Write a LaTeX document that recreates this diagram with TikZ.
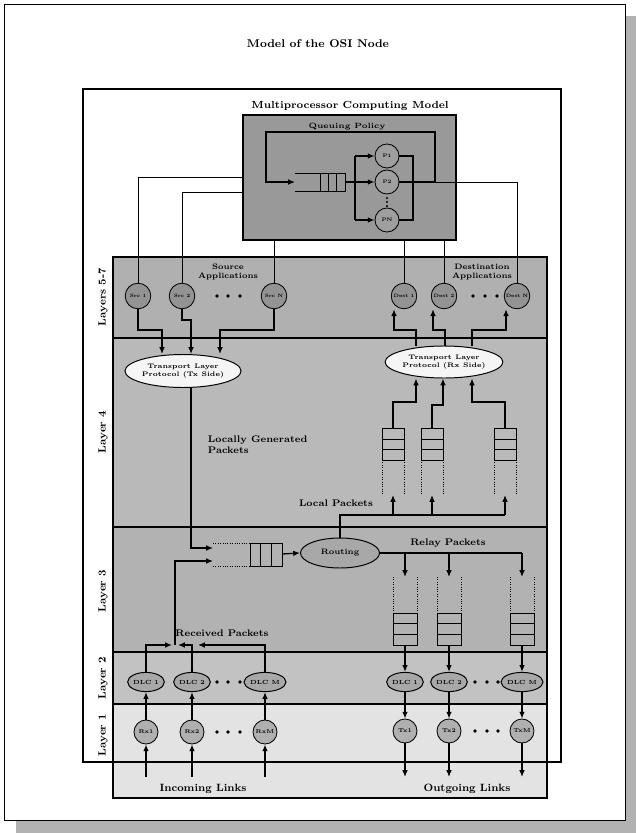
\documentclass[tikz,border=0pt]{standalone}
\usepackage{tikz}
\usetikzlibrary{arrows.meta,shapes.geometric}
\tikzset{every node/.append style={font=\bfseries}}
\tikzset{
  link/.style={line width=0.9pt},
  wire/.style={line width=0.6pt},
  arr/.style={line width=0.9pt, -{Latex[length=1.7mm,width=1.4mm]}},
  app/.style={draw, shape=circle, fill=gray!85, line width=0.6pt, minimum size=6.4mm, inner sep=0pt, font=\bfseries\fontsize{3.4}{4}\selectfont},
  srv/.style={draw, shape=circle, fill=gray!75, line width=0.6pt, minimum size=6mm, inner sep=0pt, font=\bfseries\fontsize{3.6}{4}\selectfont},
  proto/.style={draw, shape=ellipse, fill=gray!8, line width=0.7pt, inner sep=0pt, align=center, font=\bfseries\fontsize{4.7}{5.4}\selectfont},
  dlc/.style={draw, shape=ellipse, fill=gray!68, line width=0.7pt, minimum width=8.5mm, minimum height=4.8mm, inner sep=0pt, font=\bfseries\fontsize{4.2}{5}\selectfont},
  phy/.style={draw, shape=circle, fill=gray!62, line width=0.6pt, minimum size=6mm, inner sep=0pt, font=\bfseries\fontsize{4}{5}\selectfont},
  layername/.style={rotate=90, font=\bfseries\fontsize{7.5}{9}\selectfont},
  caption/.style={font=\bfseries\fontsize{6.8}{7.6}\selectfont, align=left},
  smallcap/.style={font=\bfseries\fontsize{5.6}{6.4}\selectfont, align=center},
  qsolid/.style={line width=0.7pt},
  qopen/.style={line width=0.7pt, densely dotted},
}

\begin{document}
\begin{tikzpicture}[x=0.25mm, y=-0.25mm]
  \useasboundingbox (0,0) rectangle (636,833);

  % page and shadow
  \fill[gray!60] (16,16) rectangle (636,833);
  \draw[fill=white, line width=0.6pt] (4,4) rectangle (625,820);
  \node[font=\bfseries\fontsize{8}{10}\selectfont] (title) at (318,44) {Model of the OSI Node};

  % layer bands
  \fill[gray!62] (113,257) rectangle (547,338);
  \fill[gray!55] (113,338) rectangle (547,527);
  \fill[gray!60] (113,527) rectangle (547,652);
  \fill[gray!48] (113,652) rectangle (547,704);
  \fill[gray!22] (113,704) rectangle (547,798);
  \draw[line width=1pt] (113,257) rectangle (547,798);
  \foreach \y in {338,527,652,704}
    \draw[line width=1pt] (113,\y) -- (547,\y);
  \draw[line width=1.2pt] (83,89) rectangle (561,762);

  \node[layername] (l57) at (103,297) {Layers 5-7};
  \node[layername] (l4) at (103,432) {Layer 4};
  \node[layername] (l3) at (103,591) {Layer 3};
  \node[layername] (l2) at (103,678) {Layer 2};
  \node[layername] (l1) at (103,735) {Layer 1};

  % multiprocessor computing model
  \node[font=\bfseries\fontsize{7.3}{9}\selectfont] (mpctitle) at (350,106) {Multiprocessor Computing Model};
  \node[draw, fill=gray!80, line width=1pt, minimum width=53.25mm, minimum height=31.25mm] (mpc) at (349.5,177.5) {};
  \node[font=\bfseries\fontsize{5.4}{6}\selectfont] (policy) at (347,126.5) {Queuing Policy};

  \draw[qsolid] (295,173) -- (345,173) -- (345,191) -- (295,191);
  \foreach \x in {320,328,336}
    \draw[qsolid] (\x,173) -- (\x,191);
  \coordinate (pin) at (295,182);
  \coordinate (pout) at (345,182);

  \node[srv] (p1) at (387,156) {P1};
  \node[srv] (p2) at (387,182) {P2};
  \node[srv] (pn) at (387,220) {PN};
  \foreach \y in {198,202,206}
    \fill (387,\y) circle (0.3mm);

  \draw[arr] (pout) -- (p2.west);
  \draw[link] (355,156) -- (355,220);
  \draw[arr] (355,156) -- (p1.west);
  \draw[arr] (355,220) -- (pn.west);
  \draw[link] (p1.east) -| (413,220) -- (pn.east);
  \draw[arr] (p2.east) -- (435,182) |- (266,132) |- (pin);

  % layers 5-7
  \node[smallcap] (srclbl) at (228,272) {Source\\Applications};
  \node[smallcap] (dstlbl) at (482,272) {Destination\\Applications};
  \node[app] (src1) at (138,296) {Src 1};
  \node[app] (src2) at (182,296) {Src 2};
  \node[app] (srcn) at (274,296) {Src N};
  \node[app] (dst1) at (404,296) {Dest 1};
  \node[app] (dst2) at (444,296) {Dest 2};
  \node[app] (dstn) at (517,296) {Dest N};
  \foreach \x in {217,228,240}
    \fill (\x,296) circle (0.45mm);
  \foreach \x in {473,485,497}
    \fill (\x,296) circle (0.45mm);

  \draw[wire] (src1.north) |- (mpc.west |- 0,177);
  \draw[wire] (src2.north) |- (mpc.west |- 0,192);
  \draw[wire] (srcn.north) -- (srcn.north |- mpc.south);
  \draw[wire] (dst1.north) -- (dst1.north |- mpc.south);
  \draw[wire] (dst2.north) -- (dst2.north |- mpc.south);
  \draw[wire] (dstn.north) |- (435,182);

  % layer 4
  \node[proto, minimum width=23.5mm, minimum height=8.25mm] (txp) at (183,371) {Transport Layer\\Protocol (Tx Side)};
  \node[proto, minimum width=28mm, minimum height=8mm] (rxp) at (444,362) {Transport Layer\\Protocol (Rx Side)};

  \draw[arr] (src1.south) |- (162,330) -- (162,0 |- txp.north);
  \draw[arr] (src2.south) |- (191,320) -- (191,0 |- txp.north);
  \draw[arr] (srcn.south) |- (220,330) -- (220,0 |- txp.north);
  \draw[arr] (416,0 |- rxp.north) |- (394,330) -- (394,0 |- dst1.south);
  \draw[arr] (445,0 |- rxp.north) |- (433,330) -- (433,0 |- dst2.south);
  \draw[arr] (472,0 |- rxp.north) |- (506,330) -- (506,0 |- dstn.south);

  \node[caption, anchor=north west] (locgen) at (203,431) {Locally Generated\\Packets};
  \node[caption] (locpk) at (336,503) {Local Packets};

  \foreach \x/\n in {393/1,432/2,505/3} {
    \draw[qsolid] (\x-11,460) |- (\x+11,428) -- (\x+11,460);
    \draw[qopen] (\x-11,460) -- (\x-11,495) (\x+11,460) -- (\x+11,495);
    \foreach \y in {439,449,460}
      \draw[qsolid] (\x-11,\y) -- (\x+11,\y);
    \coordinate (uqt\n) at (\x,428);
    \coordinate (uqb\n) at (\x,495);
  }
  \draw[arr] (uqt1) |- (416,402) -- (416,0 |- rxp.south);
  \draw[arr] (uqt2) |- (443,405) -- (443,0 |- rxp.south);
  \draw[arr] (uqt3) |- (472,402) -- (472,0 |- rxp.south);

  % layer 3
  \node[draw, shape=ellipse, fill=gray!68, line width=0.7pt, minimum width=19.75mm, minimum height=7.5mm, inner sep=0pt, font=\bfseries\fontsize{5.6}{6}\selectfont] (rt) at (340,553) {Routing};

  \draw[qopen] (213,543) -- (250,543) (213,566) -- (250,566);
  \draw[qsolid] (250,543) -- (282,543) -- (282,566) -- (250,566);
  \foreach \x in {250,260,271}
    \draw[qsolid] (\x,543) -- (\x,566);
  \coordinate (lqin1) at (213,548);
  \coordinate (lqin2) at (213,561);
  \coordinate (lqout) at (282,554);

  \draw[arr] (191,0 |- txp.south) |- (lqin1);
  \draw[arr] (lqout) -- (rt.west);
  \draw[link] (rt.north) |- (uqb3 |- 0,515);
  \foreach \n in {1,2,3}
    \draw[arr] (uqb\n |- 0,515) -- (uqb\n);

  \node[caption] (relay) at (448,543) {Relay Packets};
  \foreach \x/\n in {405/1,449/2,522/3} {
    \draw[qopen] (\x-12,577) -- (\x-12,613) (\x+12,577) -- (\x+12,613);
    \draw[qsolid] (\x-12,613) |- (\x+12,645) -- (\x+12,613);
    \foreach \y in {613,623,634}
      \draw[qsolid] (\x-12,\y) -- (\x+12,\y);
    \coordinate (dqt\n) at (\x,577);
    \coordinate (dqb\n) at (\x,645);
  }
  \draw[link] (rt.east) -- (dqt3 |- rt.east);
  \foreach \n in {1,2,3}
    \draw[arr] (dqt\n |- rt.east) -- (dqt\n);

  % layers 2 and 1
  \node[dlc] (dl1) at (146,682) {DLC 1};
  \node[dlc] (dl2) at (192,682) {DLC 2};
  \node[dlc] (dl3) at (265,682) {DLC M};
  \node[dlc] (dr1) at (405,682) {DLC 1};
  \node[dlc] (dr2) at (449,682) {DLC 2};
  \node[dlc] (dr3) at (522,682) {DLC M};

  \node[phy] (rx1) at (146,732) {Rx1};
  \node[phy] (rx2) at (192,732) {Rx2};
  \node[phy] (rx3) at (265,732) {RxM};
  \node[phy] (tx1) at (405,731) {Tx1};
  \node[phy] (tx2) at (449,731) {Tx2};
  \node[phy] (tx3) at (522,731) {TxM};

  \foreach \x in {217,228,240} {
    \fill (\x,682) circle (0.45mm);
    \fill (\x,732) circle (0.45mm);
  }
  \foreach \x in {475,487,498} {
    \fill (\x,682) circle (0.45mm);
    \fill (\x,731) circle (0.45mm);
  }

  \node[caption] (rcvd) at (222,633) {Received Packets};
  \coordinate (rcv) at (175,645);
  \draw[arr] (dl1.north) |- (172,645);
  \draw[arr] (dl2.north) |- (178,645);
  \draw[arr] (dl3.north) |- (198,645);
  \draw[arr] (rcv) |- (lqin2);

  \coordinate (in1) at (146,777);
  \coordinate (in2) at (192,777);
  \coordinate (in3) at (265,777);
  \coordinate (out1) at (405,777);
  \coordinate (out2) at (449,777);
  \coordinate (out3) at (522,777);
  \foreach \n in {1,2,3} {
    \draw[arr] (in\n) -- (rx\n.south);
    \draw[arr] (rx\n.north) -- (dl\n.south);
    \draw[arr] (dqb\n) -- (dr\n.north);
    \draw[arr] (dr\n.south) -- (tx\n.north);
    \draw[arr] (tx\n.south) -- (out\n);
  }

  \node[font=\bfseries\fontsize{7.5}{9}\selectfont] (inlinks) at (203,789) {Incoming Links};
  \node[font=\bfseries\fontsize{7.5}{9}\selectfont] (outlinks) at (467,789) {Outgoing Links};
\end{tikzpicture}
\end{document}
